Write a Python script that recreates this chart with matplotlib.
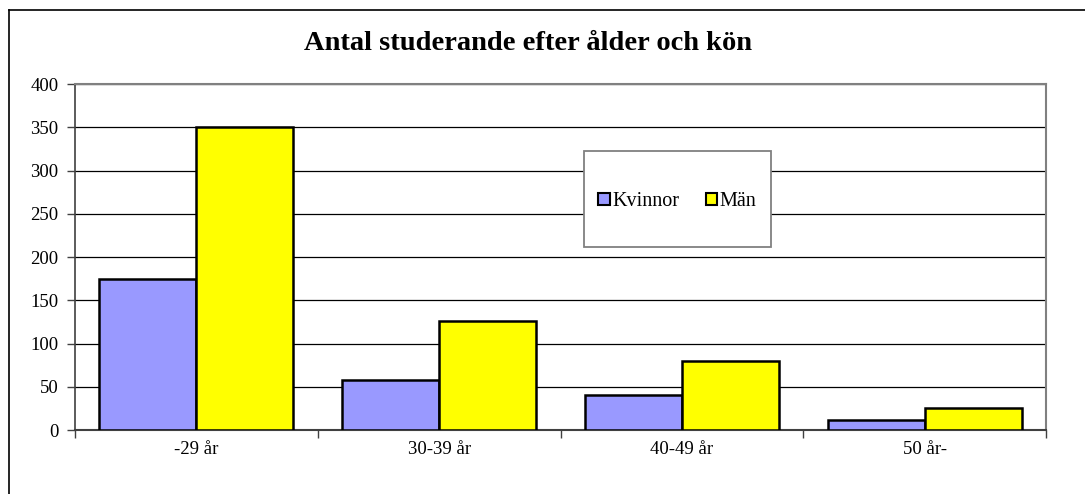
import matplotlib
matplotlib.use("Agg")
import matplotlib.pyplot as plt
import numpy as np
from matplotlib.lines import Line2D
from matplotlib.patches import Patch, Rectangle

categories = ["-29 år", "30-39 år", "40-49 år", "50 år-"]
kvinnor = [175, 58, 40, 11]
man = [350, 126, 80, 26]
series_names = ["Kvinnor", "Män"]
yticks = [0, 50, 100, 150, 200, 250, 300, 350, 400]

plt.rcParams['font.family'] = ['Liberation Serif', 'DejaVu Serif']

W, H = 1085, 494
fig = plt.figure(figsize=(10.85, 4.94), dpi=100)
ax = fig.add_axes([75/W, 1-430/H, (1046-75)/W, (430-84)/H])

x = np.arange(len(categories))
w = 0.4
ax.bar(x - w/2, kvinnor, w, color="#9999FF", edgecolor="black", linewidth=1.8, zorder=3, label=series_names[0])
ax.bar(x + w/2, man, w, color="#FFFF00", edgecolor="black", linewidth=1.8, zorder=3, label=series_names[1])

ax.set_xlim(-0.5, len(categories) - 0.5)
ax.set_ylim(0, 400)
ax.set_yticks(yticks)
ax.set_yticklabels([str(v) for v in yticks], fontsize=13.5)
ax.yaxis.grid(True, color="black", linewidth=0.9, zorder=0)
ax.set_axisbelow(True)

ax.set_xticks(x)
ax.set_xticklabels(categories, fontsize=13.5)
ax.tick_params(axis='x', which='major', length=0, pad=8)
ax.set_xticks(np.arange(-0.5, len(categories)), minor=True)
ax.tick_params(axis='x', which='minor', length=6, width=1, color="#404040", direction='out')
ax.tick_params(axis='y', length=6, width=1, color="#404040", direction='out', pad=6)

for s in ['top', 'right']:
    ax.spines[s].set_color("#808080")
    ax.spines[s].set_linewidth(1.5)
ax.spines['left'].set_color("#404040")
ax.spines['bottom'].set_color("#404040")
ax.spines['left'].set_linewidth(1.2)
ax.spines['bottom'].set_linewidth(1.5)

# legend box drawn as a rectangle, entries via legend without frame
fig.add_artist(Rectangle((584/W, 1-247/H), (771-584)/W, (247-151)/H,
                         transform=fig.transFigure, facecolor="white",
                         edgecolor="#808080", linewidth=1.3, zorder=5))
handles = [Patch(facecolor="#9999FF", edgecolor="black", linewidth=1.5),
           Patch(facecolor="#FFFF00", edgecolor="black", linewidth=1.5)]
leg = fig.legend(handles, series_names, loc='center',
                 bbox_to_anchor=((584+771)/2/W, 1-202/H),
                 ncol=2, fontsize=14.5, frameon=False,
                 handlelength=0.55, handleheight=0.55, handletextpad=0.15,
                 columnspacing=1.3, borderpad=0, borderaxespad=0)
leg.set_zorder(6)

fig.text(528/W, 1-43/H, "Antal studerande efter ålder och kön",
         ha='center', va='center', fontsize=20.5, fontweight='bold')

# outer frame (left and top edges visible)
fig.add_artist(Line2D([9/W, 9/W], [0, 1-10/H], color="black", linewidth=1.2, transform=fig.transFigure))
fig.add_artist(Line2D([9/W, 1], [1-10/H, 1-10/H], color="black", linewidth=1.2, transform=fig.transFigure))

fig.savefig("out.png", dpi=100)
